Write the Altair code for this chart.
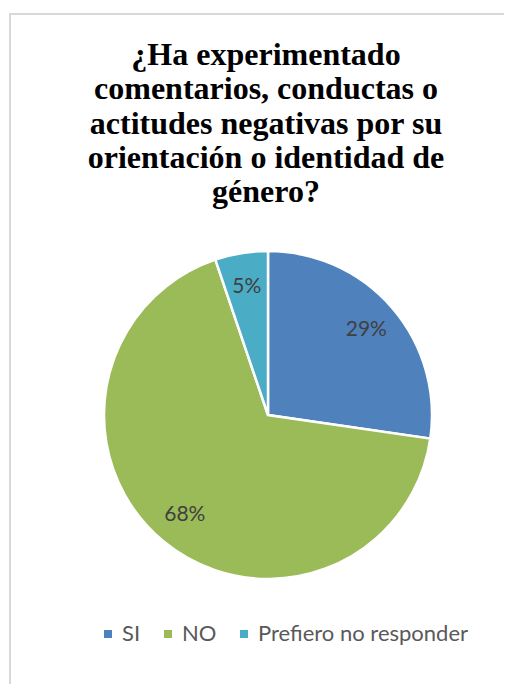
import altair as alt
import pandas as pd

categories = ["SI", "NO", "Prefiero no responder"]
shares = [27.3, 67.5, 5.2]
labels = ["29%", "68%", "5%"]
colors = ["#4F81BD", "#9BBB59", "#4BACC6"]
title_lines = [
    "¿Ha experimentado",
    "comentarios, conductas o",
    "actitudes negativas por su",
    "orientación o identidad de",
    "género?",
]

df = pd.DataFrame({
    "cat": categories,
    "share": shares,
    "label": labels,
    "idx": list(range(len(categories))),
})

CX, CY = 260, 407

base = alt.Chart(df).encode(
    theta=alt.Theta("share:Q", stack=True),
    order=alt.Order("idx:Q"),
)

pie = base.mark_arc(outerRadius=164, stroke="white", strokeWidth=2.5).encode(
    x=alt.value(CX),
    y=alt.value(CY),
    color=alt.Color(
        "cat:N",
        scale=alt.Scale(domain=categories, range=colors),
        sort=categories,
        legend=alt.Legend(
            orient="none", legendX=89, legendY=615, direction="horizontal",
            title=None, symbolType="square", symbolSize=64, symbolStrokeWidth=0,
            labelFont="Lato", labelFontSize=22, labelColor="#595959",
            columnPadding=16, labelOffset=3, padding=0, labelLimit=400,
        ),
    ),
)

text = base.mark_text(radius=130, font="Lato", fontSize=21, color="#404040").encode(
    x=alt.value(CX),
    y=alt.value(CY),
    text="label:N",
)

one = pd.DataFrame({"k": [0]})
title = alt.Chart(one).mark_text(
    font="'Liberation Serif', 'Times New Roman', Times, serif", fontSize=32,
    fontWeight="bold", color="black",
    lineHeight=34.25, align="center", baseline="alphabetic",
).encode(
    x=alt.value(258), y=alt.value(57), text=alt.value(title_lines)
)

left_rule = alt.Chart(one).mark_rule(color="#d9d9d9", strokeWidth=2).encode(
    x=alt.value(2), y=alt.value(6), y2=alt.value(800)
)
top_rule = alt.Chart(one).mark_rule(color="#d9d9d9", strokeWidth=2).encode(
    y=alt.value(6), x=alt.value(1), x2=alt.value(520)
)

chart = alt.layer(left_rule, top_rule, pie, text, title).properties(
    width=496,
    height=676,
    padding=0,
    autosize=alt.AutoSizeParams(type="none"),
).configure_view(stroke=None)

chart.save("out.html", embed_options={"renderer": "svg", "actions": False})
